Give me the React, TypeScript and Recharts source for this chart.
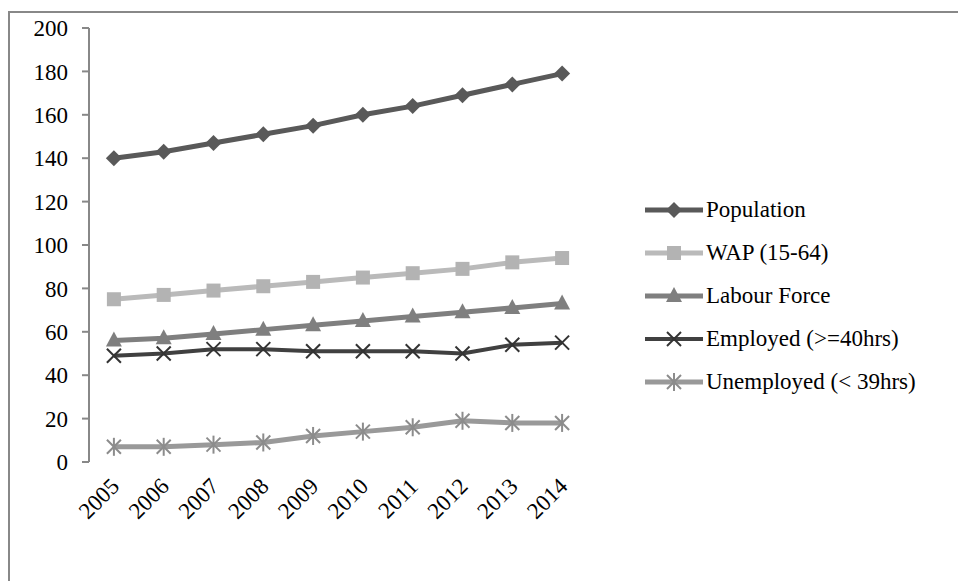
import React from 'react'
import { LineChart, Line, XAxis, YAxis } from 'recharts'

const YEARS = ['2005', '2006', '2007', '2008', '2009', '2010', '2011', '2012', '2013', '2014']
const POPULATION = [140, 143, 147, 151, 155, 160, 164, 169, 174, 179]
const WAP = [75, 77, 79, 81, 83, 85, 87, 89, 92, 94]
const LABOUR = [56, 57, 59, 61, 63, 65, 67, 69, 71, 73]
const EMPLOYED = [49, 50, 52, 52, 51, 51, 51, 50, 54, 55]
const UNEMPLOYED = [7, 7, 8, 9, 12, 14, 16, 19, 18, 18]
const Y_TICKS = [0, 20, 40, 60, 80, 100, 120, 140, 160, 180, 200]

const FONT = '"Liberation Serif", "Times New Roman", serif'
const AXIS = '#888888'

const data = YEARS.map((year, i) => ({
  x: i + 0.5,
  year,
  population: POPULATION[i],
  wap: WAP[i],
  labour: LABOUR[i],
  employed: EMPLOYED[i],
  unemployed: UNEMPLOYED[i],
}))

type Shape = 'diamond' | 'square' | 'triangle' | 'cross' | 'star'

function Marker({ cx, cy, shape, color }: { cx: number; cy: number; shape: Shape; color: string }) {
  if (cx == null || cy == null) return null
  const r = 8
  if (shape === 'diamond')
    return <polygon points={`${cx},${cy - r} ${cx + r},${cy} ${cx},${cy + r} ${cx - r},${cy}`} fill={color} />
  if (shape === 'square') return <rect x={cx - 7} y={cy - 7} width={14} height={14} fill={color} />
  if (shape === 'triangle')
    return <polygon points={`${cx},${cy - 9} ${cx + 8},${cy + 6} ${cx - 8},${cy + 6}`} fill={color} />
  if (shape === 'cross')
    return (
      <g stroke={color} strokeWidth={2}>
        <line x1={cx - 7} y1={cy - 7} x2={cx + 7} y2={cy + 7} />
        <line x1={cx - 7} y1={cy + 7} x2={cx + 7} y2={cy - 7} />
      </g>
    )
  return (
    <g stroke={color} strokeWidth={2}>
      <line x1={cx - 7} y1={cy - 7} x2={cx + 7} y2={cy + 7} />
      <line x1={cx - 7} y1={cy + 7} x2={cx + 7} y2={cy - 7} />
      <line x1={cx} y1={cy - 9} x2={cx} y2={cy + 9} />
    </g>
  )
}

const SERIES: { key: string; name: string; color: string; marker: string; shape: Shape; width: number }[] = [
  { key: 'population', name: 'Population', color: '#595959', marker: '#595959', shape: 'diamond', width: 5 },
  { key: 'wap', name: 'WAP (15-64)', color: '#bababa', marker: '#b3b3b3', shape: 'square', width: 5 },
  { key: 'labour', name: 'Labour Force', color: '#7f7f7f', marker: '#7f7f7f', shape: 'triangle', width: 5 },
  { key: 'employed', name: 'Employed (>=40hrs)', color: '#404040', marker: '#333333', shape: 'cross', width: 4 },
  { key: 'unemployed', name: 'Unemployed (< 39hrs)', color: '#999999', marker: '#8c8c8c', shape: 'star', width: 5 },
]

function YearTick({ x, y, payload }: any) {
  return (
    <text
      x={x + 3}
      y={y + 14}
      transform={`rotate(-45 ${x + 3} ${y + 14})`}
      textAnchor="end"
      dominantBaseline="middle"
      fontFamily={FONT}
      fontSize={23}
      fill="#000"
    >
      {YEARS[Math.floor(payload.value)]}
    </text>
  )
}

function LegendBox() {
  return (
    <div style={{ position: 'absolute', left: 635, top: 175, fontFamily: FONT, fontSize: 23, color: '#000' }}>
      {SERIES.map(s => (
        <div key={s.key} style={{ display: 'flex', alignItems: 'center', height: 43 }}>
          <svg width={60} height={20} style={{ marginRight: 1 }}>
            <line x1={0} y1={10} x2={58} y2={10} stroke={s.color} strokeWidth={s.width} />
            <Marker cx={29} cy={10} shape={s.shape} color={s.marker} />
          </svg>
          <span style={{ whiteSpace: 'nowrap' }}>{s.name}</span>
        </div>
      ))}
    </div>
  )
}

export default function App() {
  return (
    <div
      style={{
        position: 'absolute',
        left: 8,
        top: 11,
        width: 960,
        height: 580,
        borderTop: `2px solid ${AXIS}`,
        borderLeft: `2px solid ${AXIS}`,
        background: '#fff',
      }}
    >
      <LineChart width={948} height={568} data={data} margin={{ top: 15, right: 371, bottom: 59, left: 0 }}>
        <XAxis
          xAxisId="edges"
          dataKey="x"
          type="number"
          domain={[0, 10]}
          ticks={[0, 1, 2, 3, 4, 5, 6, 7, 8, 9, 10]}
          tick={() => <g />}
          tickSize={7}
          height={0}
          axisLine={{ stroke: AXIS, strokeWidth: 2 }}
          tickLine={{ stroke: AXIS, strokeWidth: 2 }}
        />
        <XAxis
          xAxisId="years"
          dataKey="x"
          type="number"
          domain={[0, 10]}
          ticks={YEARS.map((_, i) => i + 0.5)}
          tick={<YearTick />}
          tickLine={false}
          axisLine={false}
          height={60}
          interval={0}
        />
        <YAxis
          domain={[0, 200]}
          ticks={Y_TICKS}
          width={79}
          tickSize={7}
          tickMargin={14}
          interval={0}
          axisLine={{ stroke: AXIS, strokeWidth: 2 }}
          tickLine={{ stroke: AXIS, strokeWidth: 2 }}
          tick={{ fontFamily: FONT, fontSize: 23, fill: '#000' }}
        />
        {SERIES.map(s => (
          <Line
            key={s.key}
            xAxisId="edges"
            dataKey={s.key}
            name={s.name}
            stroke={s.color}
            strokeWidth={s.width}
            isAnimationActive={false}
            dot={(p: any) => <Marker key={`${s.key}-${p.index}`} cx={p.cx} cy={p.cy} shape={s.shape} color={s.marker} />}
            activeDot={false}
          />
        ))}
      </LineChart>
      <LegendBox />
    </div>
  )
}
